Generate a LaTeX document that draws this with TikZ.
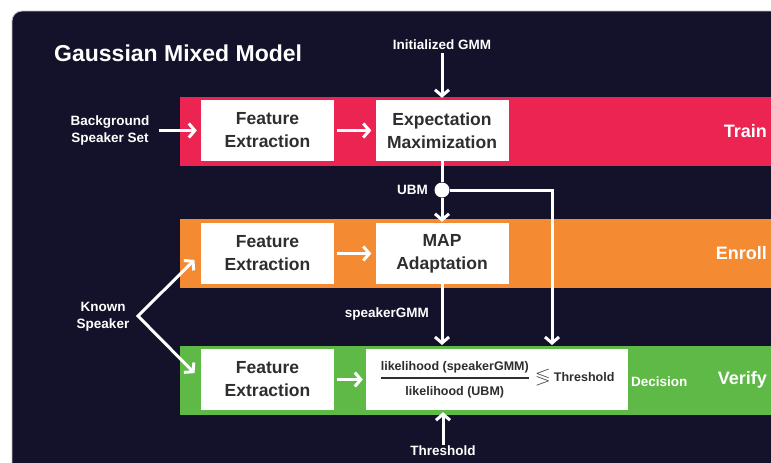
\documentclass[tikz,border=0pt]{standalone}
\usepackage{amsmath,amssymb}
\usepackage{fontspec}
\setmainfont{Liberation Sans}
\usetikzlibrary{arrows.meta,positioning,calc}
\definecolor{bgnavy}{HTML}{13122A}
\definecolor{trainc}{HTML}{EB2452}
\definecolor{enrollc}{HTML}{F48B33}
\definecolor{verifyc}{HTML}{5EB946}
\definecolor{boxtext}{HTML}{2E2E2E}

\begin{document}
\begin{tikzpicture}[x=1pt,y=-1pt,font=\bfseries,
  band/.style={anchor=north west,minimum width=620pt,minimum height=69pt,inner sep=0pt},
  stage/.style={fill=white,text=boxtext,minimum width=133pt,minimum height=61pt,
                align=center,inner sep=0pt,font=\fontsize{17.5}{23}\selectfont\bfseries},
  lbl/.style={text=white,align=center,inner sep=1pt,
              font=\fontsize{13.5}{17}\selectfont\bfseries},
  tag/.style={text=white,anchor=east,inner sep=0pt,font=\fontsize{18}{22}\selectfont\bfseries},
  arr/.style={white,line width=3pt,-{Straight Barb[length=6pt,width=14pt]}},
]
\useasboundingbox (0,0) rectangle (771,463);
\fill[white] (0,0) rectangle (771,463);

% dark panel and the three coloured lanes
\begin{scope}
\clip (0,0) rectangle (771,463);
\filldraw[fill=bgnavy,draw=gray!50,line width=0.8pt,rounded corners=10pt]
  (12,11) rectangle (800,490);
\foreach \n/\c/\y/\l in {train/trainc/97/Train,enroll/enrollc/219/Enroll,
                         verify/verifyc/346/Verify}{
  \node[band,fill=\c] (\n) at (180,\y) {};
  \node[tag] (\n tag) at (767,\y+34) {\l};
}
\end{scope}

\node[text=white,anchor=base west,inner sep=0pt,font=\fontsize{23}{28}\selectfont\bfseries]
  (title) at (54,61) {Gaussian Mixed Model};

% stages
\foreach \n/\y in {train/130.5,enroll/253.5,verify/379.5}
  \node[stage] (fe\n) at (267.5,\y) {Feature\\Extraction};
\node[stage] (em) at (442,130.5) {Expectation\\Maximization};
\node[stage] (map) at (442,253.5) {MAP\\Adaptation};
\node[stage,minimum width=262pt,font=\fontsize{12.5}{15}\selectfont\bfseries] (ratio)
  at (497,379.5)
  {$\genfrac{}{}{1.5pt}{0}{\text{likelihood (speakerGMM)}\rule[-2pt]{0pt}{2pt}}
    {\rule{0pt}{12pt}\text{likelihood (UBM)}}$\hspace{6pt}%
   {\fontsize{18}{18}\selectfont$\boldsymbol{\lessgtr}$}\hspace{4pt}Threshold};

% inputs and outputs
\node[lbl] (initgmm) at (442,45) {Initialized GMM};
\node[lbl] (bgset) at (110,130.5) {Background\\Speaker Set};
\node[lbl] (known) at (103,317) {Known\\Speaker};
\node[lbl,anchor=east] (ubmlbl) at (429,190) {UBM};
\node[lbl,anchor=east] (spklbl) at (430,314) {speakerGMM};
\node[lbl] (thr) at (443,451) {Threshold};
\node[lbl,anchor=west,inner sep=0pt] (decision) at (631,382) {Decision};

\node[circle,fill=white,minimum size=15pt,inner sep=0pt] (ubm) at (442,190) {};
\coordinate (ubmturn) at (552,190);
\coordinate (fork) at (138,316);

% connectors
\draw[arr,shorten <=2pt,shorten >=2pt] (initgmm) -- (em);
\draw[arr,shorten <=8pt,shorten >=4pt] (bgset) -- (fetrain);
\draw[arr,shorten <=3pt,shorten >=4pt] (fetrain) -- (em);
\draw[arr,shorten <=3pt,shorten >=4pt] (feenroll) -- (map);
\draw[arr,shorten <=3pt,shorten >=3pt] (feverify) -- (ratio);
\draw[white,line width=3pt] (em) -- (ubm);
\draw[arr,shorten >=1pt] (ubm) -- (map);
\draw[arr,shorten >=1pt] (ubm) -- (ubmturn) -- (ubmturn |- verify.north);
\draw[arr,shorten >=1pt] (map) -- (map |- verify.north);
\draw[arr,shorten >=2pt] (thr) -- (thr |- ratio.south);
\draw[arr,{Straight Barb[length=6pt,width=14pt]}-{Straight Barb[length=6pt,width=14pt]},
      shorten <=9pt,shorten >=9pt] (feenroll.west) -- (fork) -- (feverify.west);
\end{tikzpicture}
\end{document}
